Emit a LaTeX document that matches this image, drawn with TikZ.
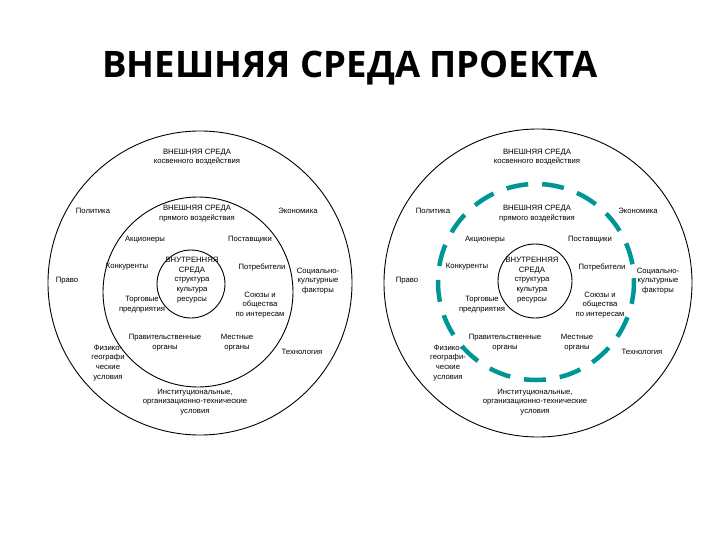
\documentclass[tikz,border=0pt]{standalone}
\usepackage{fontspec}
\setmainfont{Liberation Sans}
\newfontfamily\titlefont{Open Sans}
\definecolor{teal1}{RGB}{0,150,150}
\tikzset{lbl/.style={align=center,inner sep=0pt,font=\fontsize{7.7}{9.8}\selectfont},
ring/.style={draw=black,line width=0.9pt},
dashring/.style={draw=teal1,line width=4.5pt,dash pattern=on 22pt off 14pt}}
\newcommand\envlabels[2]{%
\begin{scope}[xshift=#2]
\node[lbl] (#1a) at (197,157) {ВНЕШНЯЯ СРЕДА\\косвенного воздействия};
\node[lbl] (#1b) at (93,211) {Политика};
\node[lbl] (#1c) at (298,211) {Экономика};
\node[lbl] (#1d) at (197,214) {ВНЕШНЯЯ СРЕДА\\прямого воздействия};
\node[lbl] (#1e) at (145,240) {Акционеры};
\node[lbl] (#1f) at (250,240) {Поставщики};
\node[lbl] (#1g) at (127,267) {Конкуренты};
\node[lbl] (#1h) at (262,267) {Потребители};
\node[lbl] (#1i) at (67,281) {Право};
\node[lbl] (#1j) at (318,281) {Социально-\\культурные\\факторы};
\node[lbl] (#1k) at (142,305) {Торговые\\предприятия};
\node[lbl] (#1l) at (260,305) {Союзы и\\общества\\по интересам};
\node[lbl] (#1m) at (165,343) {Правительственные\\органы};
\node[lbl] (#1n) at (237,343) {Местные\\органы};
\node[lbl] (#1p) at (302,352) {Технология};
\node[lbl] (#1q) at (195,402) {Институциональные,\\организационно-технические\\условия};
\node[lbl] (#1r) at (192,280) {ВНУТРЕННЯЯ\\СРЕДА\\структура\\культура\\ресурсы};
\end{scope}}
\begin{document}
\begin{tikzpicture}[x=1pt,y=-1pt]
\useasboundingbox (0,0) rectangle (720,540);
\node[font=\titlefont\bfseries\fontsize{36.5}{40}\selectfont] (title) at (350,68) {ВНЕШНЯЯ СРЕДА ПРОЕКТА};
% left diagram
\draw[ring] (200,283) circle (152);
\draw[ring] (198,292) circle (95);
\draw[ring] (191,284) circle (34);
\envlabels{L}{0pt}
\node[lbl] (Ls) at (108,363) {Физико-\\географи\\ческие\\условия};
% right diagram
\draw[ring] (538,283) circle (154);
\draw[ring] (535,281) circle (37);
\draw[dashring] (536,282) circle (98);
\envlabels{R}{340pt}
\node[lbl] (Rs) at (448,363) {Физико-\\географи-\\ческие\\условия};
\end{tikzpicture}
\end{document}
